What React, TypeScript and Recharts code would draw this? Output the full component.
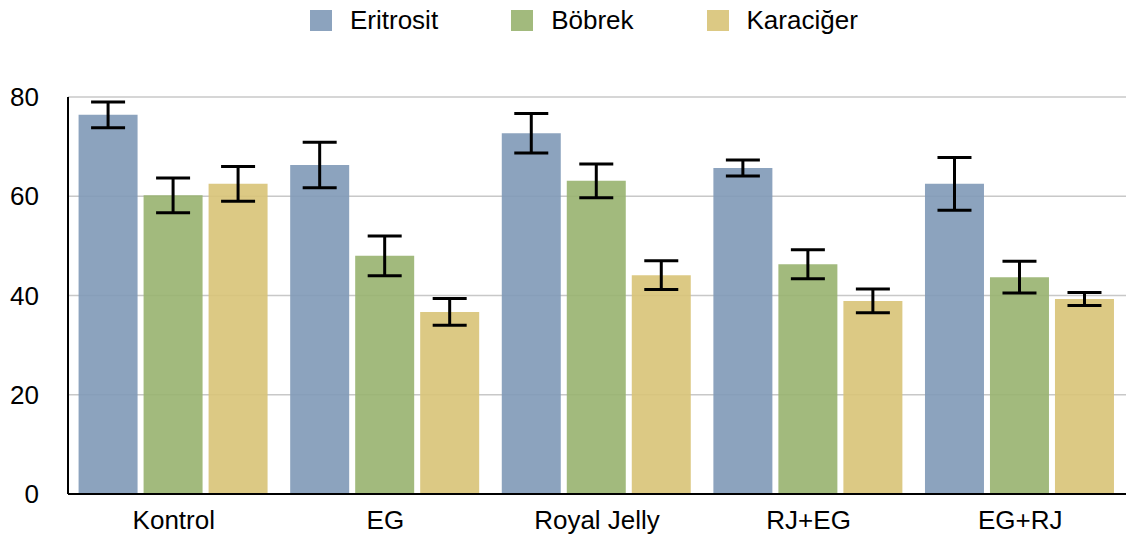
import { BarChart, Bar, CartesianGrid, ErrorBar, XAxis, YAxis } from "recharts";

const groups = ["Kontrol", "EG", "Royal Jelly", "RJ+EG", "EG+RJ"];
const eritrosit = [76.4, 66.3, 72.7, 65.7, 62.5];
const eritrositErr = [2.6, 4.6, 4.0, 1.6, 5.3];
const bobrek = [60.2, 48.0, 63.1, 46.3, 43.7];
const bobrekErr = [3.5, 4.0, 3.4, 2.9, 3.2];
const karaciger = [62.5, 36.7, 44.1, 38.9, 39.3];
const karacigerErr = [3.5, 2.7, 2.9, 2.4, 1.3];
const yTicks = [0, 20, 40, 60, 80];

const seriesNames = ["Eritrosit", "Böbrek", "Karaciğer"];
const colors = ["#8099b7", "#98b26f", "#d8c377"];

const data = groups.map((g, i) => ({
  group: g,
  eritrosit: eritrosit[i],
  eritrositErr: eritrositErr[i],
  bobrek: bobrek[i],
  bobrekErr: bobrekErr[i],
  karaciger: karaciger[i],
  karacigerErr: karacigerErr[i],
}));

const font = "'Liberation Sans', Arial, sans-serif";

function TopLegend() {
  return (
    <div
      style={{
        position: "absolute",
        top: 5,
        left: 310,
        display: "flex",
        fontFamily: font,
        fontSize: 26,
        lineHeight: "30px",
        color: "#000",
      }}
    >
      {seriesNames.map((name, i) => (
        <div key={name} style={{ display: "flex", alignItems: "center", marginRight: 73 }}>
          <span
            style={{
              width: 22,
              height: 21,
              background: colors[i],
              opacity: 0.9,
              marginRight: 18,
              display: "inline-block",
            }}
          />
          <span>{name}</span>
        </div>
      ))}
    </div>
  );
}

export default function App() {
  const tick = { fill: "#000", fontSize: 26, fontFamily: font };
  return (
    <div style={{ position: "relative", width: 1126, height: 541, background: "#fff" }}>
      <style>{`body{margin:0}`}</style>
      <TopLegend />
      <BarChart
        width={1126}
        height={541}
        data={data}
        margin={{ top: 97, right: 0, bottom: 0, left: 1 }}
        barCategoryGap="5%"
        barGap={6}
      >
        <CartesianGrid vertical={false} stroke="#c8c8c8" strokeWidth={1.5} />
        <XAxis
          dataKey="group"
          height={47}
          tick={tick}
          tickLine={false}
          tickSize={0}
          tickMargin={17}
          axisLine={{ stroke: "#000", strokeWidth: 2 }}
        />
        <YAxis
          width={67}
          domain={[0, 80]}
          ticks={yTicks}
          tick={tick}
          tickLine={false}
          tickSize={0}
          tickMargin={29}
          axisLine={{ stroke: "#000", strokeWidth: 2 }}
        />
        <Bar dataKey="eritrosit" name="Eritrosit" fill={colors[0]} fillOpacity={0.9} isAnimationActive={false}>
          <ErrorBar dataKey="eritrositErr" width={17} stroke="#000" strokeWidth={3} />
        </Bar>
        <Bar dataKey="bobrek" name="Böbrek" fill={colors[1]} fillOpacity={0.9} isAnimationActive={false}>
          <ErrorBar dataKey="bobrekErr" width={17} stroke="#000" strokeWidth={3} />
        </Bar>
        <Bar dataKey="karaciger" name="Karaciğer" fill={colors[2]} fillOpacity={0.9} isAnimationActive={false}>
          <ErrorBar dataKey="karacigerErr" width={17} stroke="#000" strokeWidth={3} />
        </Bar>
      </BarChart>
    </div>
  );
}
